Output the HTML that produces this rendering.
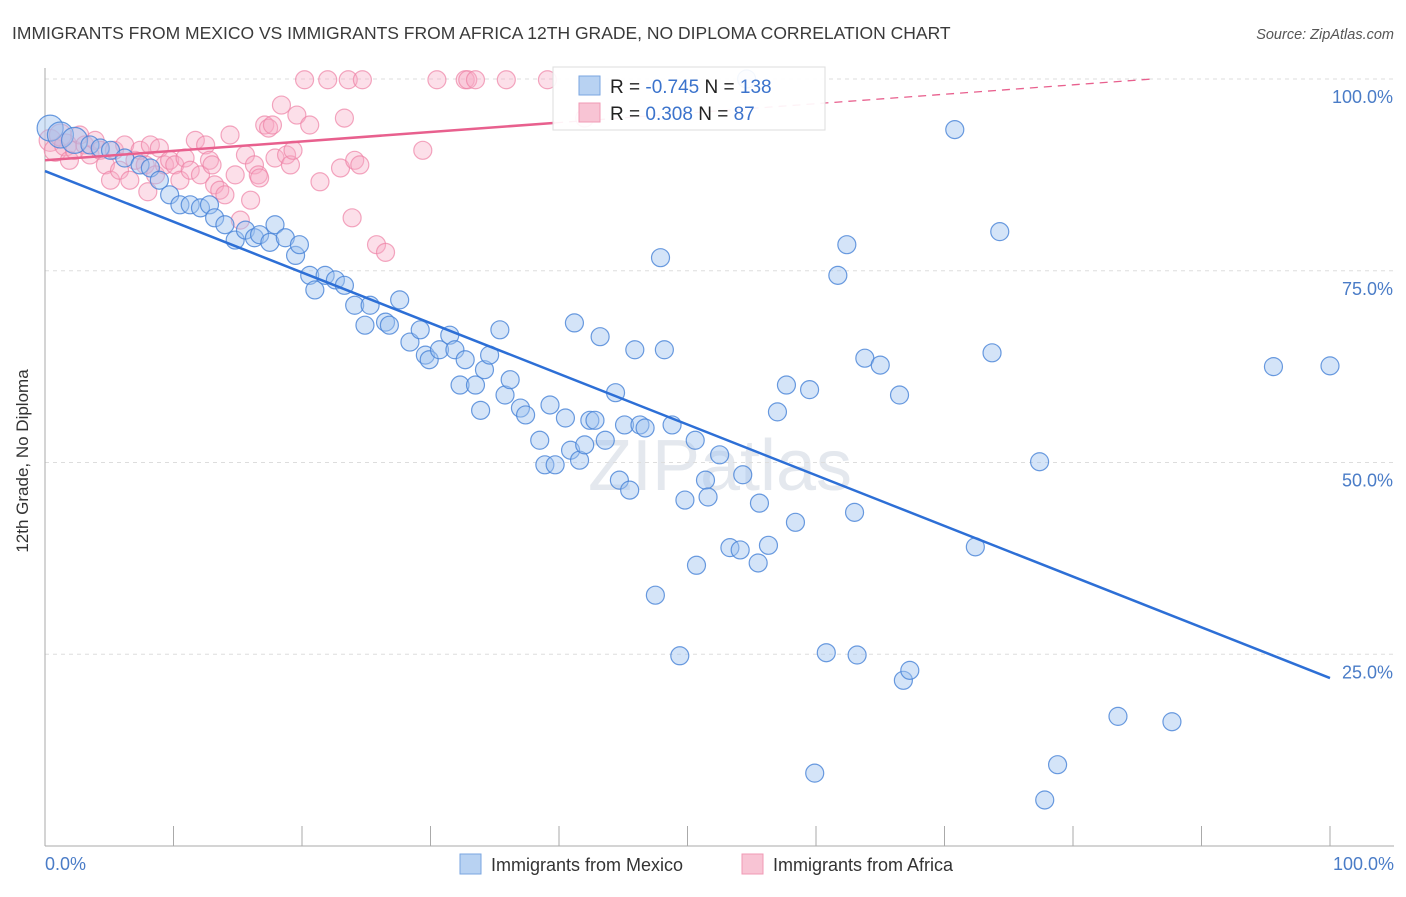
<!DOCTYPE html>
<html><head><meta charset="utf-8"><style>
body{margin:0;background:#fff;font-family:"Liberation Sans",sans-serif;}
svg text{font-family:"Liberation Sans",sans-serif;}
</style></head><body>
<svg id="chart" width="1406" height="892" xmlns="http://www.w3.org/2000/svg">
<text x="12" y="39" font-size="17.5" fill="#3a3a3a">IMMIGRANTS FROM MEXICO VS IMMIGRANTS FROM AFRICA 12TH GRADE, NO DIPLOMA CORRELATION CHART</text>
<text x="1394" y="39" font-size="14.5" fill="#555" text-anchor="end" font-style="italic">Source: ZipAtlas.com</text>
<text x="720" y="490" font-size="72" fill="#e4e8ee" text-anchor="middle" font-family="Liberation Serif">ZIPatlas</text>
<g id="grid"></g>
<g id="axes"></g>
<g id="pinkPts"></g>
<g id="bluePts"></g>
<g id="lines"></g>
<text x="22" y="455" font-size="17" fill="#333" text-anchor="middle" transform="rotate(-90 28 455)">12th Grade, No Diploma</text>
<text x="45" y="870" font-size="18" fill="#4a7cc7">0.0%</text>
<text x="1394" y="870" font-size="18" fill="#4a7cc7" text-anchor="end">100.0%</text>
<g>
<rect x="553" y="67" width="272" height="63" fill="#fff" fill-opacity="0.92" stroke="#ddd"/>
<rect x="579" y="76" width="21" height="19" fill="#b8d2f2" stroke="#7aa6e0"/>
<rect x="579" y="103" width="21" height="19" fill="#f8c4d4" stroke="#f09ab5"/>
<text x="610" y="93" font-size="19" fill="#222">R = <tspan fill="#3b73cc">-0.745</tspan>   N = <tspan fill="#3b73cc">138</tspan></text>
<text x="610" y="120" font-size="19" fill="#222">R = <tspan fill="#3b73cc"> 0.308</tspan>   N = <tspan fill="#3b73cc">  87</tspan></text>
</g>
<g>
<rect x="460" y="854" width="21" height="20" fill="#b8d2f2" stroke="#7aa6e0"/>
<text x="491" y="871" font-size="18" fill="#333">Immigrants from Mexico</text>
<rect x="742" y="854" width="21" height="20" fill="#f8c4d4" stroke="#f09ab5"/>
<text x="773" y="871" font-size="18" fill="#333">Immigrants from Africa</text>
</g>
</svg>
<script>
const yTicks=[25,50,75,100];
const yTickLabels=["25.0%","50.0%","75.0%","100.0%"];
const xTicks=[0,10,20,30,40,50,60,70,80,90,100];
const blueX=[0.4,1.2,2.3,3.5,4.3,5.1,6.2,7.4,8.2,8.9,9.7,10.5,11.3,12.1,12.8,13.2,14.0,14.8,15.6,16.3,16.7,17.5,17.9,18.7,19.5,19.8,20.6,21.0,21.8,22.6,23.3,24.1,24.9,25.3,26.5,26.8,27.6,28.4,29.2,29.6,29.9,30.7,31.5,31.9,32.3,32.7,33.5,33.9,34.2,34.6,35.4,35.8,36.2,37.0,37.4,38.5,38.9,39.3,39.7,40.5,40.9,41.2,41.6,42.0,42.4,42.8,43.2,43.6,44.4,44.7,45.1,45.5,45.9,46.3,46.7,47.5,47.9,48.2,48.8,49.4,49.8,50.6,50.7,51.4,51.6,52.5,53.3,54.1,54.3,55.5,55.6,56.3,57.0,57.7,58.4,59.5,59.9,60.8,61.7,62.4,63.0,63.2,63.8,65.0,66.5,66.8,67.3,70.8,72.4,73.7,74.3,77.4,77.8,78.8,83.5,87.7,95.6,100,54.6];
const blueY=[93.6,92.7,92.0,91.4,91.0,90.7,89.7,88.8,88.4,86.8,84.9,83.6,83.6,83.2,83.6,81.9,81.0,79.0,80.3,79.3,79.7,78.7,81.0,79.3,77.0,78.4,74.4,72.5,74.4,73.8,73.1,70.5,67.9,70.5,68.3,67.9,71.2,65.7,67.3,64.0,63.4,64.7,66.6,64.7,60.1,63.4,60.1,56.8,62.1,64.0,67.3,58.8,60.8,57.1,56.2,52.9,49.7,57.5,49.7,55.8,51.6,68.2,50.3,52.3,55.5,55.5,66.4,52.9,59.1,47.7,54.9,46.4,64.7,54.9,54.5,32.7,76.7,64.7,54.9,24.8,45.1,52.9,36.6,47.7,45.5,51.0,38.9,38.6,48.4,36.9,44.7,39.2,56.6,60.1,42.2,59.5,9.5,25.2,74.4,78.4,43.5,24.9,63.6,62.7,58.8,21.6,22.9,93.4,39.0,64.3,80.1,50.1,6.0,10.6,16.9,16.2,62.5,62.6,100];
const pinkX=[0.4,0.8,1.2,1.6,1.9,2.3,2.7,3.1,3.5,3.9,4.3,4.7,5.1,5.4,5.8,6.2,6.6,7.0,7.4,7.8,8.0,8.2,8.6,8.9,9.3,9.7,10.1,10.5,10.9,11.3,11.7,12.1,12.5,12.8,13.0,13.2,13.6,14.0,14.4,14.8,15.2,15.6,16.0,16.3,16.6,16.7,17.1,17.4,17.7,17.9,18.4,18.8,19.1,19.3,19.6,20.2,20.6,21.4,22.0,23.0,23.3,23.6,23.9,24.1,24.5,24.7,25.8,26.5,29.4,30.5,32.7,32.9,33.5,35.9,39.1,42.0];
const pinkY=[92.0,90.7,92.7,91.4,89.4,90.7,92.7,91.4,90.1,92.0,90.7,88.8,86.8,90.7,88.1,91.4,86.8,89.4,90.7,88.8,85.3,91.4,87.5,91.0,88.8,89.4,88.8,86.8,89.7,88.1,92.0,87.5,91.4,89.4,88.8,86.2,85.5,84.9,92.7,87.5,81.6,90.1,84.2,88.8,87.5,87.1,94.0,93.6,94.0,89.7,96.6,90.1,88.8,90.7,95.3,99.9,94.0,86.6,99.9,88.4,94.9,99.9,81.9,89.4,88.8,99.9,78.4,77.4,90.7,99.9,99.9,99.9,99.9,99.9,99.9,94.9];
const blueTrend=[88.0,21.9];
const pinkTrend=[89.4,101.7];
const pinkSolidEnd=39.7;

const NS="http://www.w3.org/2000/svg";
const X0=45,X1=1330,Y0=846,Y100=79;
function sx(v){return X0+(X1-X0)*v/100;}
function sy(v){return Y0-(Y0-Y100)*v/100;}
function mk(tag,attrs,parent){const e=document.createElementNS(NS,tag);for(const k in attrs)e.setAttribute(k,attrs[k]);parent.appendChild(e);return e;}
const grid=document.getElementById('grid'),axes=document.getElementById('axes');
yTicks.forEach((t,i)=>{
  const l=mk('line',{x1:X0,x2:1394,y1:sy(t),y2:sy(t),stroke:'#ddd','stroke-dasharray':'4,4'},grid);
  
  
  const tx=mk('text',{x:1393,y:sy(t)+24,'font-size':18,fill:'#4a7cc7','text-anchor':'end'},axes);
  tx.textContent=yTickLabels[i];
  
  
});
const ya=mk('line',{x1:X0,x2:X0,y1:68,y2:Y0,stroke:'#aaa'},axes);


const xa=mk('line',{x1:X0,x2:1394,y1:Y0,y2:Y0,stroke:'#aaa'},axes);


xTicks.forEach(t=>{
  const l=mk('line',{x1:sx(t),x2:sx(t),y1:826,y2:Y0,stroke:'#aaa'},axes);
  
  
});
const pg=document.getElementById('pinkPts');
pinkX.forEach((x,i)=>{
  const c=mk('circle',{cx:sx(x),cy:sy(pinkY[i]),r:(i<4?11:9),fill:'rgba(246,170,196,0.38)',stroke:'rgba(238,130,165,0.7)','stroke-width':1.2},pg);
  
  
});
const bg=document.getElementById('bluePts');
blueX.forEach((x,i)=>{
  const c=mk('circle',{cx:sx(x),cy:sy(blueY[i]),r:(i<3?13:9),fill:'rgba(160,196,240,0.45)',stroke:'rgba(70,130,215,0.8)','stroke-width':1.2},bg);
  
  
});
const lg=document.getElementById('lines');
const bl=mk('line',{x1:sx(0),y1:sy(blueTrend[0]),x2:sx(100),y2:sy(blueTrend[1]),stroke:'#2d6fd6','stroke-width':2.5},lg);


const pAt=v=>pinkTrend[0]+(pinkTrend[1]-pinkTrend[0])*v/100;
const pl=mk('line',{x1:sx(0),y1:sy(pAt(0)),x2:sx(pinkSolidEnd),y2:sy(pAt(pinkSolidEnd)),stroke:'#e8608e','stroke-width':2.5},lg);


const xEnd=100*(100-pinkTrend[0])/(pinkTrend[1]-pinkTrend[0]);
const pd=mk('line',{x1:sx(pinkSolidEnd),y1:sy(pAt(pinkSolidEnd)),x2:sx(xEnd),y2:sy(100),stroke:'#e8608e','stroke-width':1.3,'stroke-dasharray':'8,6'},lg);


</script>
</body></html>
